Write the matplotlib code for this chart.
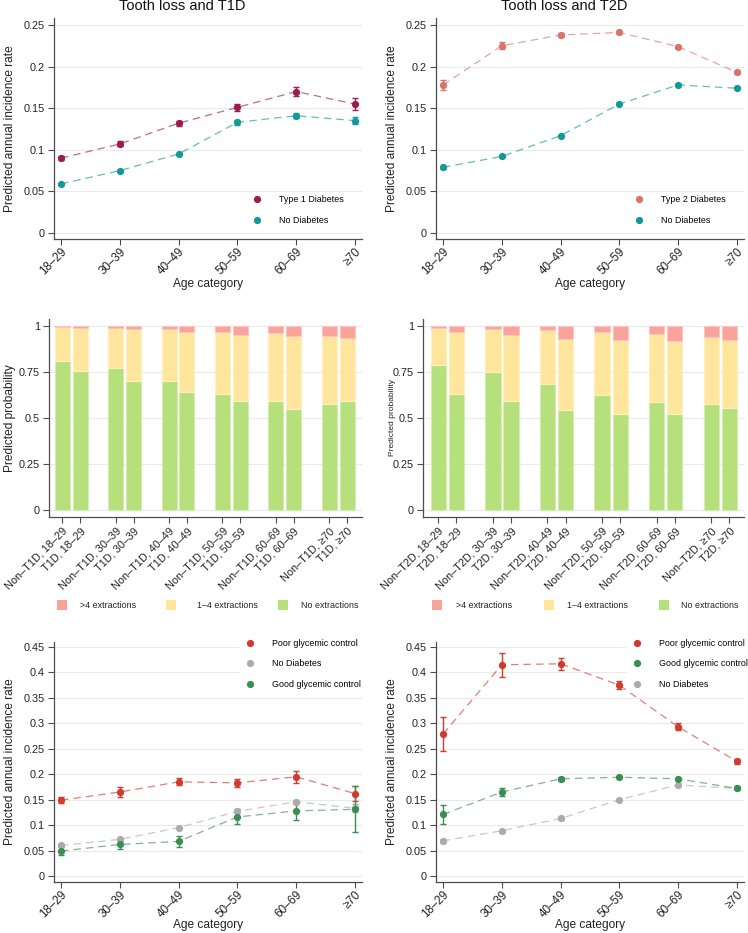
import matplotlib
matplotlib.use("Agg")
import matplotlib.pyplot as plt
from matplotlib.patches import Rectangle
from matplotlib.lines import Line2D
import numpy as np

plt.rcParams['font.family'] = ['Liberation Sans', 'DejaVu Sans']

# ---------------- data ----------------
ages = ['18–29', '30–39', '40–49', '50–59', '60–69', '≥70']

# Top-left: tooth loss and T1D
t1d_rate = [0.090, 0.107, 0.132, 0.151, 0.170, 0.155]
t1d_err = [0.002, 0.003, 0.003, 0.004, 0.005, 0.007]
nod1_rate = [0.059, 0.075, 0.095, 0.133, 0.141, 0.135]
nod1_err = [0.001, 0.001, 0.001, 0.003, 0.003, 0.004]

# Top-right: tooth loss and T2D
t2d_rate = [0.178, 0.225, 0.238, 0.241, 0.224, 0.193]
t2d_err = [0.006, 0.004, 0.002, 0.002, 0.002, 0.002]
nod2_rate = [0.079, 0.092, 0.117, 0.155, 0.178, 0.174]
nod2_err = [0.002, 0.001, 0.001, 0.001, 0.001, 0.001]

# Middle-left: extraction probabilities, T1D (green = none, yellow = 1-4, red = >4)
bar1_labels = ['Non–T1D, 18–29', 'T1D, 18–29', 'Non–T1D, 30–39', 'T1D, 30–39',
               'Non–T1D, 40–49', 'T1D, 40–49', 'Non–T1D, 50–59', 'T1D, 50–59',
               'Non–T1D, 60–69', 'T1D, 60–69', 'Non–T1D, ≥70', 'T1D, ≥70']
bar1_none = [0.808, 0.758, 0.771, 0.700, 0.703, 0.639, 0.629, 0.590, 0.595, 0.551, 0.578, 0.592]
bar1_mid = [0.186, 0.229, 0.220, 0.281, 0.278, 0.326, 0.338, 0.361, 0.366, 0.392, 0.365, 0.342]
bar1_high = [0.006, 0.013, 0.009, 0.019, 0.019, 0.035, 0.033, 0.049, 0.039, 0.057, 0.057, 0.066]

# Middle-right: extraction probabilities, T2D
bar2_labels = ['Non–T2D, 18–29', 'T2D, 18–29', 'Non–T2D, 30–39', 'T2D, 30–39',
               'Non–T2D, 40–49', 'T2D, 40–49', 'Non–T2D, 50–59', 'T2D, 50–59',
               'Non–T2D, 60–69', 'T2D, 60–69', 'Non–T2D, ≥70', 'T2D, ≥70']
bar2_none = [0.788, 0.630, 0.750, 0.592, 0.685, 0.543, 0.627, 0.522, 0.589, 0.522, 0.576, 0.554]
bar2_mid = [0.203, 0.339, 0.236, 0.357, 0.293, 0.388, 0.339, 0.402, 0.366, 0.398, 0.366, 0.370]
bar2_high = [0.009, 0.031, 0.014, 0.051, 0.022, 0.069, 0.034, 0.076, 0.045, 0.080, 0.058, 0.076]

# Bottom-left: glycemic control, T1D
poor1_rate = [0.149, 0.165, 0.185, 0.183, 0.195, 0.162]
poor1_err = [0.006, 0.009, 0.007, 0.008, 0.012, 0.015]
nodb1_rate = [0.060, 0.072, 0.095, 0.127, 0.146, 0.133]
nodb1_err = [0.002, 0.002, 0.002, 0.004, 0.004, 0.008]
good1_rate = [0.049, 0.062, 0.068, 0.116, 0.128, 0.131]
good1_err = [0.007, 0.008, 0.011, 0.014, 0.017, 0.045]

# Bottom-right: glycemic control, T2D
poor2_rate = [0.279, 0.415, 0.417, 0.375, 0.293, 0.225]
poor2_err = [0.034, 0.024, 0.012, 0.008, 0.007, 0.005]
good2_rate = [0.121, 0.165, 0.191, 0.194, 0.191, 0.172]
good2_err = [0.018, 0.007, 0.004, 0.002, 0.002, 0.002]
nodb2_rate = [0.069, 0.089, 0.113, 0.150, 0.179, 0.172]
nodb2_err = [0.004, 0.002, 0.002, 0.001, 0.002, 0.002]

# ---------------- style ----------------
C_T1D = '#9C1C4E'
C_T2D = '#D9736B'
C_NOD = '#14999A'
C_POOR = '#D13A2E'
C_GOOD = '#3A8E4F'
C_GRAY = '#ABABAB'
C_BAR_G = '#B5E07B'
C_BAR_Y = '#FFE69C'
C_BAR_R = '#F9A39B'
SPINE = '#4D4D4D'
GRID = '#EAEAEA'
TICK_FS = 7.8
AGE_FS = 8.4
LAB_FS = 8.6
LEG_FS = 6.4

W, H = 748, 933
fig = plt.figure(figsize=(W / 100, H / 100), dpi=100)


def rect(left, right, top, bottom):
    return [left / W, 1 - bottom / H, (right - left) / W, (bottom - top) / H]


def style_axes(ax):
    for s in ['top', 'right']:
        ax.spines[s].set_visible(False)
    for s in ['left', 'bottom']:
        ax.spines[s].set_color(SPINE)
        ax.spines[s].set_linewidth(0.9)
    ax.tick_params(axis='both', colors=SPINE, labelcolor='#222222', labelsize=TICK_FS,
                   length=4, width=0.8, direction='out', pad=2.5)
    ax.yaxis.grid(True, color=GRID, linewidth=0.8)
    ax.set_axisbelow(True)


def fmt(v):
    return ('%.2f' % v).rstrip('0').rstrip('.')


def set_ylab(ax, text, right_px, left_px, width_px, fs=LAB_FS):
    ax.set_ylabel(text, fontsize=fs, color='#222222')
    ax.yaxis.set_label_coords((right_px - left_px) / width_px, 0.5)


def line_panel(ax, series, yticks, ylim, xlab_top_px, bottom_px, height_px):
    x = np.arange(len(ages))
    for rate, err, col, lab in series:
        ax.plot(x, rate, linestyle=(0, (6, 4)), color=col, alpha=0.65, linewidth=0.9, zorder=2)
        ax.errorbar(x, rate, yerr=err, fmt='o', color=col, ecolor=col, elinewidth=1.0,
                    capsize=2.5, capthick=1.0, markersize=4.2, zorder=3, label=lab)
    ax.set_xlim(-0.12, 5.12)
    ax.set_ylim(*ylim)
    ax.set_yticks(yticks)
    ax.set_yticklabels([fmt(v) for v in yticks])
    ax.set_xticks(x)
    style_axes(ax)
    ax.tick_params(axis='x', pad=1.0)
    ax.set_xticklabels(ages, rotation=45, ha='right', rotation_mode='anchor', fontsize=AGE_FS)
    ax.set_xlabel('Age category', fontsize=LAB_FS, color='#222222')
    ax.xaxis.set_label_coords(0.5, (bottom_px - xlab_top_px) / height_px)


def marker_handles(series):
    return [Line2D([], [], marker='o', linestyle='none', color=c, markersize=4.2)
            for _, _, c, _ in series]


def point_legend(ax, series, anchor_px, left_px, bottom_px, wpx, hpx, loc, boxed):
    leg = ax.legend(marker_handles(series), [s[3] for s in series], loc=loc,
                    bbox_to_anchor=((anchor_px[0] - left_px) / wpx,
                                    (bottom_px - anchor_px[1]) / hpx),
                    frameon=boxed, fontsize=LEG_FS, handlelength=1.2, handletextpad=1.9,
                    labelspacing=1.3, borderpad=0.5, fancybox=False)
    if boxed:
        leg.get_frame().set_facecolor('white')
        leg.get_frame().set_edgecolor('none')
        leg.get_frame().set_alpha(1.0)
    return leg


# ---- top-left ----
ax1 = fig.add_axes(rect(54, 362, 18, 239))
s1 = [(t1d_rate, t1d_err, C_T1D, 'Type 1 Diabetes'), (nod1_rate, nod1_err, C_NOD, 'No Diabetes')]
line_panel(ax1, s1, [0, 0.05, 0.1, 0.15, 0.2, 0.25], (-0.0072, 0.2584), 278, 239, 221)
set_ylab(ax1, 'Predicted annual incidence rate', 16, 54, 308)
point_legend(ax1, s1, (243, 210), 54, 239, 308, 221, 'center left', False)
fig.text(182 / W, 1 - 6.5 / H, 'Tooth loss and T1D', ha='center', va='center', fontsize=10.5,
         color='#111111')

# ---- top-right ----
ax2 = fig.add_axes(rect(436, 744, 18, 239))
s2 = [(t2d_rate, t2d_err, C_T2D, 'Type 2 Diabetes'), (nod2_rate, nod2_err, C_NOD, 'No Diabetes')]
line_panel(ax2, s2, [0, 0.05, 0.1, 0.15, 0.2, 0.25], (-0.0072, 0.2584), 278, 239, 221)
set_ylab(ax2, 'Predicted annual incidence rate', 398, 436, 308)
point_legend(ax2, s2, (625, 210), 436, 239, 308, 221, 'center left', False)
fig.text(564 / W, 1 - 6.5 / H, 'Tooth loss and T2D', ha='center', va='center', fontsize=10.5,
         color='#111111')


# ---- middle bars ----
def bar_panel(ax, labels, none, mid, high, xlim):
    pos = np.array([3 * (i // 2) + (i % 2) for i in range(len(labels))], dtype=float)
    none = np.array(none); mid = np.array(mid); high = np.array(high)
    kw = dict(width=0.84, linewidth=0.8)
    ax.bar(pos, none, color=C_BAR_G, edgecolor='#D5EDB3', **kw)
    ax.bar(pos, mid, bottom=none, color=C_BAR_Y, edgecolor='#FFF0C4', **kw)
    ax.bar(pos, high, bottom=none + mid, color=C_BAR_R, edgecolor='#FBC6C1', **kw)
    ax.set_xlim(*xlim)
    ax.set_ylim(-0.038, 1.038)
    yt = [0, 0.25, 0.5, 0.75, 1]
    ax.set_yticks(yt)
    ax.set_yticklabels([fmt(v) for v in yt])
    ax.set_xticks(pos)
    ax.set_xticklabels(labels, rotation=45, ha='right', rotation_mode='anchor')
    style_axes(ax)


ax3 = fig.add_axes(rect(49, 362, 319, 517))
bar_panel(ax3, bar1_labels, bar1_none, bar1_mid, bar1_high, (-0.75, 16.84))
set_ylab(ax3, 'Predicted probability', 16, 49, 313)
ax4 = fig.add_axes(rect(423, 744, 319, 517))
bar_panel(ax4, bar2_labels, bar2_none, bar2_mid, bar2_high, (-0.84, 16.8))
set_ylab(ax4, 'Predicted probability', 396, 423, 321, fs=6.0)

bar_colors = [C_BAR_R, C_BAR_Y, C_BAR_G]
bar_names = ['>4 extractions', '1–4 extractions', 'No extractions']
legend_sq = [[57, 166, 278], [432, 544, 659]]
legend_tx = [[80, 197, 301], [456, 567, 681]]
LEG_Y = 605
for sqs, txs in zip(legend_sq, legend_tx):
    for sx, tx, col, name in zip(sqs, txs, bar_colors, bar_names):
        fig.patches.append(Rectangle((sx / W, 1 - (LEG_Y + 5) / H), 10 / W, 10 / H,
                                     transform=fig.transFigure, facecolor=col,
                                     edgecolor='none'))
        fig.text(tx / W, 1 - LEG_Y / H, name, ha='left', va='center', fontsize=LEG_FS,
                 color='#222222')

# ---- bottom-left ----
yt_b = [0, 0.05, 0.1, 0.15, 0.2, 0.25, 0.3, 0.35, 0.4, 0.45]
ax5 = fig.add_axes(rect(54, 362, 642, 882))
s5 = [(nodb1_rate, nodb1_err, C_GRAY, 'No Diabetes'),
      (poor1_rate, poor1_err, C_POOR, 'Poor glycemic control'),
      (good1_rate, good1_err, C_GOOD, 'Good glycemic control')]
line_panel(ax5, s5, yt_b, (-0.0118, 0.4598), 919, 882, 240)
set_ylab(ax5, 'Predicted annual incidence rate', 16, 54, 308)
point_legend(ax5, [s5[1], s5[0], s5[2]], (236, 630), 54, 882, 308, 240, 'upper left', True)

# ---- bottom-right ----
ax6 = fig.add_axes(rect(436, 744, 642, 882))
s6 = [(nodb2_rate, nodb2_err, C_GRAY, 'No Diabetes'),
      (good2_rate, good2_err, C_GOOD, 'Good glycemic control'),
      (poor2_rate, poor2_err, C_POOR, 'Poor glycemic control')]
line_panel(ax6, s6, yt_b, (-0.0118, 0.4598), 919, 882, 240)
set_ylab(ax6, 'Predicted annual incidence rate', 398, 436, 308)
point_legend(ax6, [s6[2], s6[1], s6[0]], (623, 630), 436, 882, 308, 240, 'upper left', True)

fig.savefig('out.png', dpi=100)
